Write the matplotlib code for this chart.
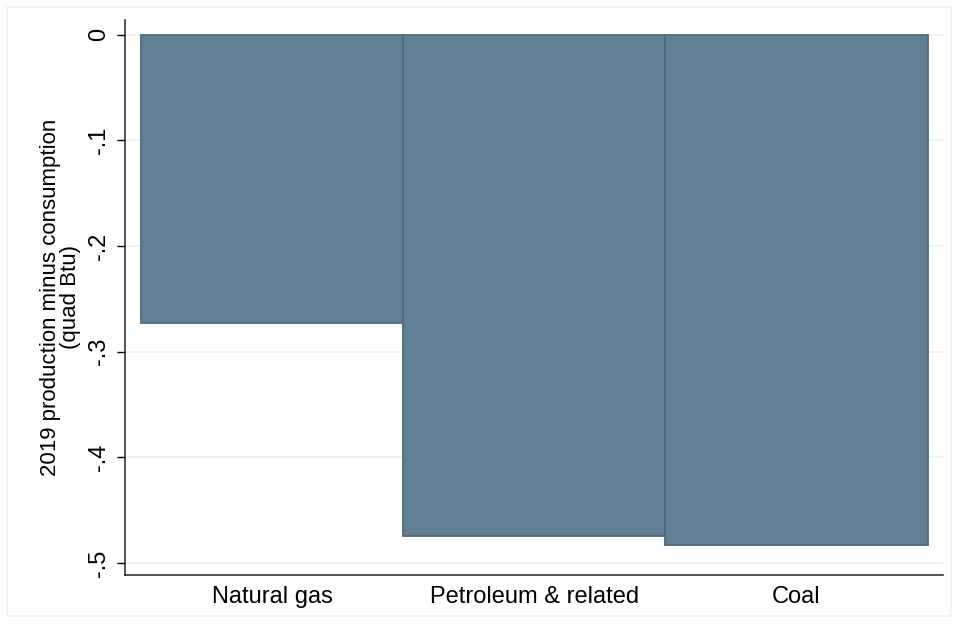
import matplotlib
matplotlib.use("Agg")
import matplotlib.pyplot as plt
import numpy as np

plt.rcParams["font.family"] = ["Liberation Sans", "DejaVu Sans"]

# ----- data ------
sources = ["Natural gas", "Petroleum & related", "Coal"]
net_quad_btu = [-0.273, -0.474, -0.483]
yticks = [0, -0.1, -0.2, -0.3, -0.4, -0.5]
ytick_labels = ["0", "-.1", "-.2", "-.3", "-.4", "-.5"]

fig = plt.figure(figsize=(9.54, 6.24), dpi=100)
ax = fig.add_axes([0.131, 0.079, 0.857, 0.889])

# faint outer graph-region frame
fig.patches.append(plt.Rectangle((0.007, 0.013), 0.99, 0.975, transform=fig.transFigure,
                                 fill=False, ec="#eef3f5", lw=1.2))

x = np.arange(len(sources))
ax.bar(x, net_quad_btu, width=1.0, color="#637f94", edgecolor="#4c6b83", lw=1.3, zorder=3)

ax.set_xlim(-0.561, 2.557)
ax.set_ylim(-0.511, 0.014)
ax.set_yticks(yticks)
ax.set_yticklabels(ytick_labels, rotation=90, va="center", fontsize=17)
ax.set_xticks(x)
ax.set_xticklabels(sources, fontsize=17)
ax.tick_params(axis="x", length=0, pad=8)
ax.tick_params(axis="y", length=6, width=1, pad=5)
ax.grid(axis="y", color="#eaf1f3", lw=1.2, zorder=0)
ax.set_axisbelow(True)
for s in ["top", "right"]:
    ax.spines[s].set_visible(False)
for s in ["left", "bottom"]:
    ax.spines[s].set_linewidth(1.1)
    ax.spines[s].set_color("#222222")
ax.set_ylabel("2019 production minus consumption\n(quad Btu)", fontsize=16,
              linespacing=0.9, labelpad=5)

plt.savefig("out.png", dpi=100)
